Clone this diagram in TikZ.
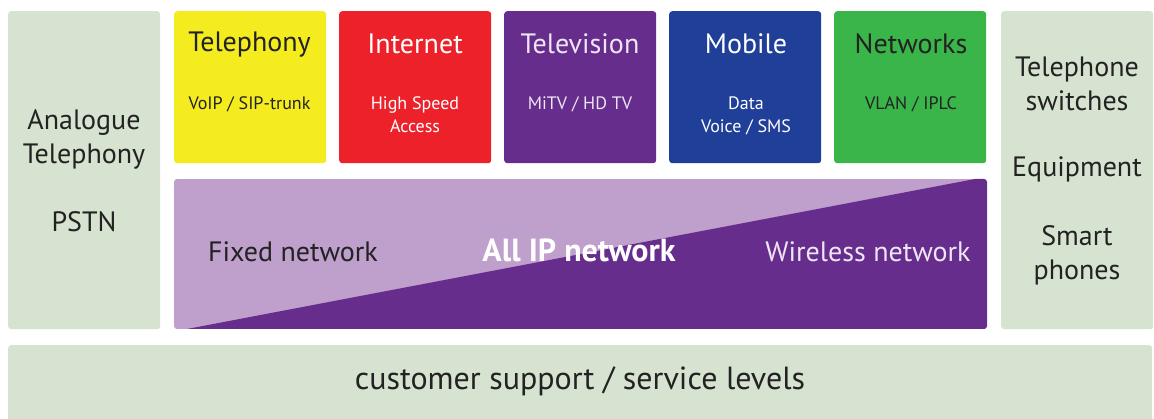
\documentclass[tikz,border=0pt]{standalone}
\usepackage{fontspec}
\setmainfont{PT Sans}
\usetikzlibrary{positioning}

\definecolor{sidegreen}{HTML}{D6E3D0}
\definecolor{telyellow}{HTML}{F5EC1F}
\definecolor{netred}{HTML}{EC2129}
\definecolor{tvpurple}{HTML}{662D8C}
\definecolor{mobblue}{HTML}{1F3F98}
\definecolor{nwgreen}{HTML}{3AB54A}
\definecolor{fixedlilac}{HTML}{BF9FCB}
\definecolor{darktext}{HTML}{222222}
\definecolor{tvtext}{HTML}{EEE6F4}

\begin{document}
\begin{tikzpicture}[x=1pt,y=-1pt,node distance=165pt,
  service/.style={rectangle,rounded corners=3pt,minimum width=152pt,minimum height=152pt,inner sep=0pt},
  side/.style={rectangle,rounded corners=3pt,fill=sidegreen,inner sep=0pt},
  title/.style={font=\fontsize{28}{32}\selectfont},
  sub/.style={font=\fontsize{18}{23}\selectfont,align=center,anchor=north},
  sidetext/.style={font=\fontsize{28}{34}\selectfont,align=center,text=darktext}]

 \useasboundingbox (0,0) rectangle (1154,419);
 \clip (0,0) rectangle (1154,419);

 % side columns and bottom bar
 \node[side,minimum width=152pt,minimum height=318pt,anchor=north west] (analogue) at (8,11) {};
 \node[side,minimum width=152pt,minimum height=318pt,anchor=north west] (devices) at (1001,11) {};
 \node[side,minimum width=1144pt,minimum height=90pt,anchor=north west] (support) at (8,345) {};

 % service boxes
 \node[service,fill=telyellow,anchor=north west] (tel) at (174,11) {};
 \node[service,fill=netred] (inet) [right of=tel] {};
 \node[service,fill=tvpurple] (tv) [right of=inet] {};
 \node[service,fill=mobblue] (mob) [right of=tv] {};
 \node[service,fill=nwgreen] (nw) [right of=mob] {};

 % all IP network block
 \begin{scope}
  \clip[rounded corners=3pt] (174,179) rectangle (987,329);
  \fill[fixedlilac] (174,179) rectangle (987,329);
  \fill[tvpurple] (187,329) -- (975,179) -- (990,179) -- (990,332) -- cycle;
 \end{scope}

 % titles
 \node[title,text=darktext] (teltitle) at (249.5,45) {Telephony};
 \node[title,text=white] (inettitle) at (415,44) {Internet};
 \node[title,text=tvtext] (tvtitle) at (580,44) {Television};
 \node[title,text=white] (mobtitle) at (746,44) {Mobile};
 \node[title,text=darktext] (nwtitle) at (911,44) {Networks};

 % sub texts
 \node[sub,text=darktext] (telsub) at (249.5,93) {VoIP / SIP-trunk};
 \node[sub,text=white] (inetsub) at (415,93) {High Speed\\Access};
 \node[sub,text=tvtext] (tvsub) at (580,93) {MiTV / HD TV};
 \node[sub,text=white] (mobsub) at (746,93) {Data\\Voice / SMS};
 \node[sub,text=darktext] (nwsub) at (911,93) {VLAN / IPLC};

 % side texts
 \node[sidetext] (analoguetext) at (84,139) {Analogue\\Telephony};
 \node[sidetext] (pstn) at (84,222) {PSTN};
 \node[sidetext] (switches) at (1077,84) {Telephone\\switches};
 \node[sidetext] (equipment) at (1077,169) {Equipment};
 \node[sidetext] (phones) at (1077,255) {Smart\\phones};

 % network texts
 \node[font=\fontsize{28}{32}\selectfont,text=darktext] (fixed) at (293,252) {Fixed network};
 \node[font=\fontsize{32}{36}\selectfont\bfseries,text=white] (allip) at (579,250) {All IP network};
 \node[font=\fontsize{28}{32}\selectfont,text=tvtext] (wireless) at (868,252) {Wireless network};

 \node[font=\fontsize{32}{36}\selectfont,text=darktext] (supporttext) at (580,381) {customer support / service levels};

\end{tikzpicture}
\end{document}
